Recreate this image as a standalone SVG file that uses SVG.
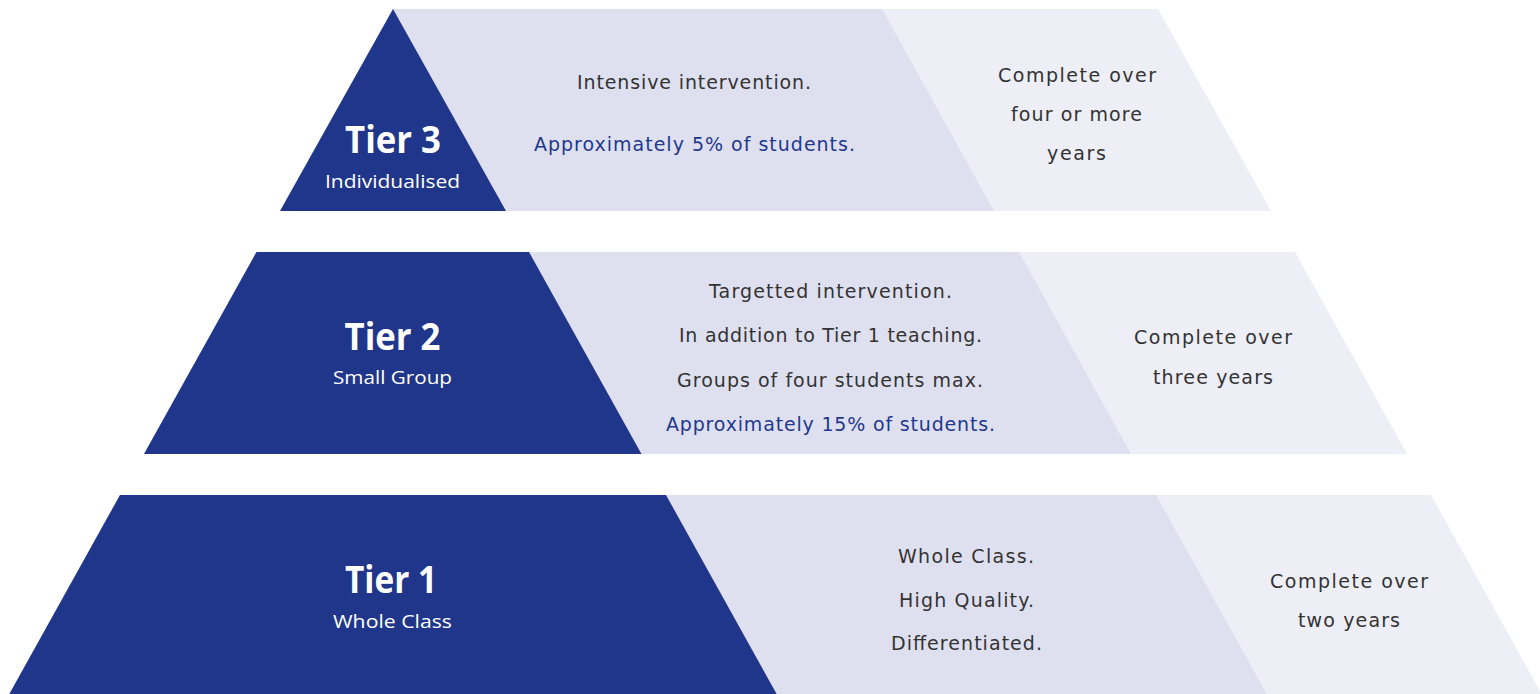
<svg xmlns="http://www.w3.org/2000/svg" width="1540" height="694" viewBox="0 0 1540 694">
  <style>
    .dark { fill: #20368A; }
    .mid { fill: #DFE0EF; }
    .light { fill: #EDEEF6; }
    .title { font-family: "Open Sans", "Liberation Sans", sans-serif; font-weight: 700; font-size: 37px; fill: #FFFFFF; text-anchor: middle; }
    .sub { font-family: "Open Sans", "Liberation Sans", sans-serif; font-size: 18px; fill: #FFFFFF; text-anchor: middle; }
    .body { font-family: "DejaVu Sans", "Open Sans", sans-serif; font-size: 19px; fill: #333333; text-anchor: middle; }
    .accent { fill: #22388D; }
  </style>

  <rect width="1540" height="694" fill="#FFFFFF"/>

  <!-- Tier 3: apex triangle -->
  <g id="tier3">
    <polygon class="light" points="393,9 1158,9 1271,211 280,211"/>
    <polygon class="mid" points="393,9 882,9 994,211 280,211"/>
    <polygon class="dark" points="393,9 506,211 280,211"/>
    <text class="title" x="393" y="153" textLength="96" lengthAdjust="spacingAndGlyphs">Tier 3</text>
    <text class="sub" x="392.5" y="188" textLength="135" lengthAdjust="spacingAndGlyphs">Individualised</text>
    <text class="body" x="694" y="89" textLength="234">Intensive intervention.</text>
    <text class="body accent" x="694.5" y="151" textLength="321">Approximately 5% of students.</text>
    <text class="body" x="1077" y="81.5" textLength="158">Complete over</text>
    <text class="body" x="1076.5" y="120.5" textLength="131">four or more</text>
    <text class="body" x="1076.5" y="160" textLength="59">years</text>
  </g>

  <!-- Tier 2: middle band -->
  <g id="tier2">
    <polygon class="light" points="256.5,252 1295,252 1407,454 144,454"/>
    <polygon class="mid" points="256.5,252 1019,252 1131,454 144,454"/>
    <polygon class="dark" points="256.5,252 529,252 641.5,454 144,454"/>
    <text class="title" x="392.5" y="350" textLength="96" lengthAdjust="spacingAndGlyphs">Tier 2</text>
    <text class="sub" x="392.5" y="384" textLength="119" lengthAdjust="spacingAndGlyphs">Small Group</text>
    <text class="body" x="830.5" y="297.5" textLength="243">Targetted intervention.</text>
    <text class="body" x="830.5" y="342" textLength="303">In addition to Tier 1 teaching.</text>
    <text class="body" x="830" y="386.5" textLength="306">Groups of four students max.</text>
    <text class="body accent" x="830.5" y="430.5" textLength="329">Approximately 15% of students.</text>
    <text class="body" x="1213" y="344" textLength="158">Complete over</text>
    <text class="body" x="1213" y="384" textLength="120">three years</text>
  </g>

  <!-- Tier 1: base band, running off the bottom edge -->
  <g id="tier1">
    <polygon class="light" points="120,495 1431,495 1545,700 6,700"/>
    <polygon class="mid" points="120,495 1156,495 1270,700 6,700"/>
    <polygon class="dark" points="120,495 666,495 780,700 6,700"/>
    <text class="title" x="391" y="593" textLength="92" lengthAdjust="spacingAndGlyphs">Tier 1</text>
    <text class="sub" x="392.5" y="628" textLength="119" lengthAdjust="spacingAndGlyphs">Whole Class</text>
    <text class="body" x="966" y="563" textLength="136">Whole Class.</text>
    <text class="body" x="966.5" y="607" textLength="135">High Quality.</text>
    <text class="body" x="966.5" y="650" textLength="151">Differentiated.</text>
    <text class="body" x="1349" y="588" textLength="158">Complete over</text>
    <text class="body" x="1349" y="627" textLength="102">two years</text>
  </g>
</svg>
